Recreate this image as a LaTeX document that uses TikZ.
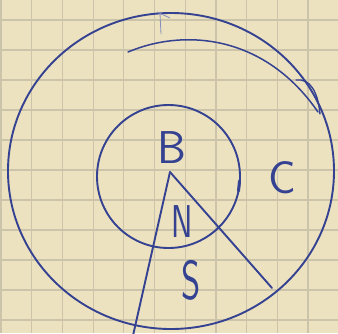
\documentclass[tikz,border=0pt]{standalone}
\usetikzlibrary{calc}
\definecolor{paper}{RGB}{236,226,192}
\definecolor{gridc}{RGB}{204,196,170}
\definecolor{ink}{RGB}{52,66,145}
\tikzset{
  inkline/.style={draw=ink, line width=1.9pt, line cap=round, line join=round},
  lbl/.style={text=ink, inner sep=0pt, font=\sffamily\fontsize{46}{46}\selectfont},
  gridline/.style={draw=gridc, line width=1.2pt}
}
\begin{document}
\begin{tikzpicture}[x=1pt,y=-1pt]
\useasboundingbox (0,0) rectangle (338,333);
\fill[paper] (0,0) rectangle (338,333);
\clip (0,0) rectangle (338,333);
% graph paper
\foreach \k in {0,...,10} {
  \draw[gridline] ({1+30.7*\k},0) -- ({1+30.7*\k},333);
  \draw[gridline] (0,{20+30*\k}) -- (338,{20+30*\k});
}
% outer circle
\coordinate (oc) at (171,171);
\draw[inkline] (oc) ellipse [x radius=163, y radius=158];
% upper inner arc
\coordinate (a1) at (128,52);
\coordinate (a2) at (318,112);
\draw[inkline, line width=1.5pt] (a1) .. controls (185,28) and (265,35) .. (a2);
\draw[inkline, line width=1.4pt] (296,80) .. controls (310,78) and (318,92) .. (320,114);
% faint tick at top
\draw[draw=ink!60, line width=0.8pt] (160,14) -- (161,34);
\draw[draw=ink!60, line width=0.8pt] (157,12) -- (170,18);
% inner circle
\coordinate (ic) at (168.5,176.5);
\draw[inkline] (ic) circle [radius=71.5];
\draw[ink, line width=3pt, line cap=round] (239.5,181) -- (238.5,191);
% lines from B
\coordinate (apex) at (170,172);
\coordinate (e1) at (132,340);
\coordinate (e2) at (272,288);
\draw[inkline] (apex) -- (e1);
\draw[inkline] (apex) -- (e2);
% labels
\node[lbl] (B) at (172,148) {B};
\node[lbl] (C) at (282,178) {C};
\node[lbl] (N) at (182,222) {\scalebox{0.7}[1]{N}};
\node[lbl] (S) at (191,280) {\scalebox{0.8}[1.2]{S}};
\end{tikzpicture}
\end{document}
